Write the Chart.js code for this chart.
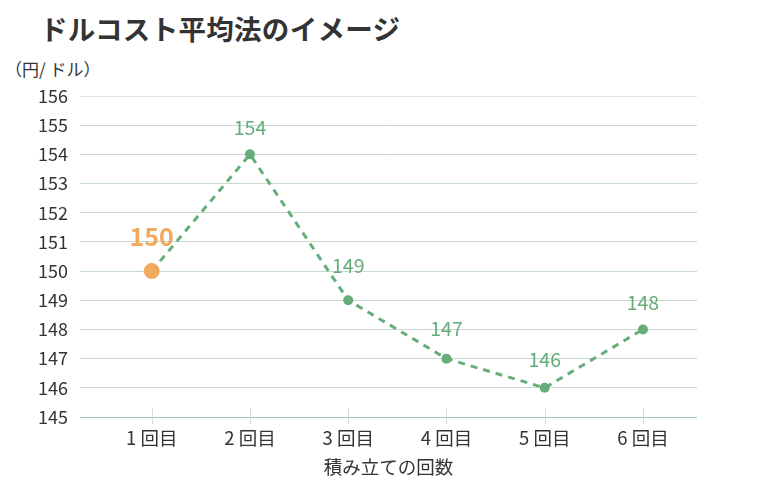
<!DOCTYPE html>
<html>
<head>
<meta charset="utf-8">
<script src="https://cdn.jsdelivr.net/npm/chart.js@4.4.1/dist/chart.umd.min.js"></script>
<style>
  body { margin: 0; background: #fff; font-family: "Noto Sans CJK JP", sans-serif; }
  #wrap { position: relative; width: 780px; height: 482px; }
  #title { position: absolute; left: 40px; top: 8px; font-size: 27.5px; font-weight: bold; color: #333; letter-spacing: 0.3px; white-space: nowrap; }
  #unit { position: absolute; left: 5px; top: 56px; font-size: 17px; color: #333; white-space: nowrap; }
  canvas { position: absolute; left: 0; top: 0; }
</style>
</head>
<body>
<div id="wrap">
  <div id="title">ドルコスト平均法のイメージ</div>
  <div id="unit">（円/ ドル）</div>
  <canvas id="chart" width="780" height="482"></canvas>
</div>
<script>
const rounds = [1, 2, 3, 4, 5, 6];
const roundLabels = ['1 回目', '2 回目', '3 回目', '4 回目', '5 回目', '6 回目'];
const rates = [150, 154, 149, 147, 146, 148];

const green = '#66ad79';
const orange = '#f0aa5c';
const fontFamily = '"Noto Sans CJK JP", sans-serif';

const points = rounds.map((r, i) => ({ x: r, y: rates[i] }));

// label lift above each point, px
const labelLift = [35, 27, 35, 30, 28, 27];

const valueLabels = {
  id: 'valueLabels',
  afterDatasetsDraw(chart) {
    const ctx = chart.ctx;
    const meta = chart.getDatasetMeta(0);
    ctx.save();
    ctx.textAlign = 'center';
    ctx.textBaseline = 'middle';
    meta.data.forEach((pt, i) => {
      if (i === 0) {
        ctx.font = 'bold 25px ' + fontFamily;
        ctx.fillStyle = orange;
      } else {
        ctx.font = '19.5px ' + fontFamily;
        ctx.fillStyle = green;
      }
      ctx.fillText(rates[i], pt.x, pt.y - labelLift[i]);
    });
    ctx.restore();
  }
};

// small tick marks crossing the bottom line
const crossTicks = {
  id: 'crossTicks',
  beforeDatasetsDraw(chart) {
    const ctx = chart.ctx;
    const xs = chart.scales.x;
    const bottom = chart.chartArea.bottom;
    ctx.save();
    ctx.strokeStyle = '#d3dcd8';
    ctx.lineWidth = 1;
    rounds.forEach(r => {
      const x = Math.round(xs.getPixelForValue(r)) + 0.5;
      ctx.beginPath();
      ctx.moveTo(x, bottom - 9);
      ctx.lineTo(x, bottom + 7);
      ctx.stroke();
    });
    ctx.restore();
  }
};

new Chart(document.getElementById('chart'), {
  type: 'line',
  data: {
    datasets: [{
      data: points,
      borderColor: green,
      borderWidth: 3,
      borderDash: [7, 6],
      pointRadius: rates.map((v, i) => i === 0 ? 8 : 5),
      pointBackgroundColor: rates.map((v, i) => i === 0 ? orange : green),
      pointBorderWidth: 0,
      tension: 0
    }]
  },
  options: {
    responsive: false,
    animation: false,
    layout: { padding: { top: 96, right: 83, left: 0, bottom: 0 } },
    plugins: { legend: { display: false }, tooltip: { enabled: false } },
    scales: {
      x: {
        type: 'linear',
        min: 0.27,
        max: 6.55,
        afterBuildTicks(axis) { axis.ticks = rounds.map(v => ({ value: v })); },
        afterFit(axis) { axis.height = 65; },
        border: { display: false },
        grid: { display: false, drawTicks: false },
        ticks: {
          padding: 10,
          color: '#333',
          font: { family: fontFamily, size: 18.5 },
          callback: (v) => roundLabels[rounds.indexOf(v)]
        },
        title: {
          display: true,
          text: '積み立ての回数',
          color: '#333',
          font: { family: fontFamily, size: 18.5 },
          padding: { top: 0, bottom: 4 }
        }
      },
      y: {
        min: 145,
        max: 156,
        afterFit(axis) { axis.width = 80; },
        border: { display: false },
        grid: {
          drawTicks: false,
          color: (c) => c.tick.value === 145 ? '#9cc8b0' : (c.tick.value === 156 ? '#dde3e0' : '#c6d8d0'),
          lineWidth: 1
        },
        ticks: {
          stepSize: 1,
          padding: 12,
          color: '#333',
          font: { family: fontFamily, size: 18 }
        }
      }
    }
  },
  plugins: [crossTicks, valueLabels]
});
</script>
</body>
</html>
